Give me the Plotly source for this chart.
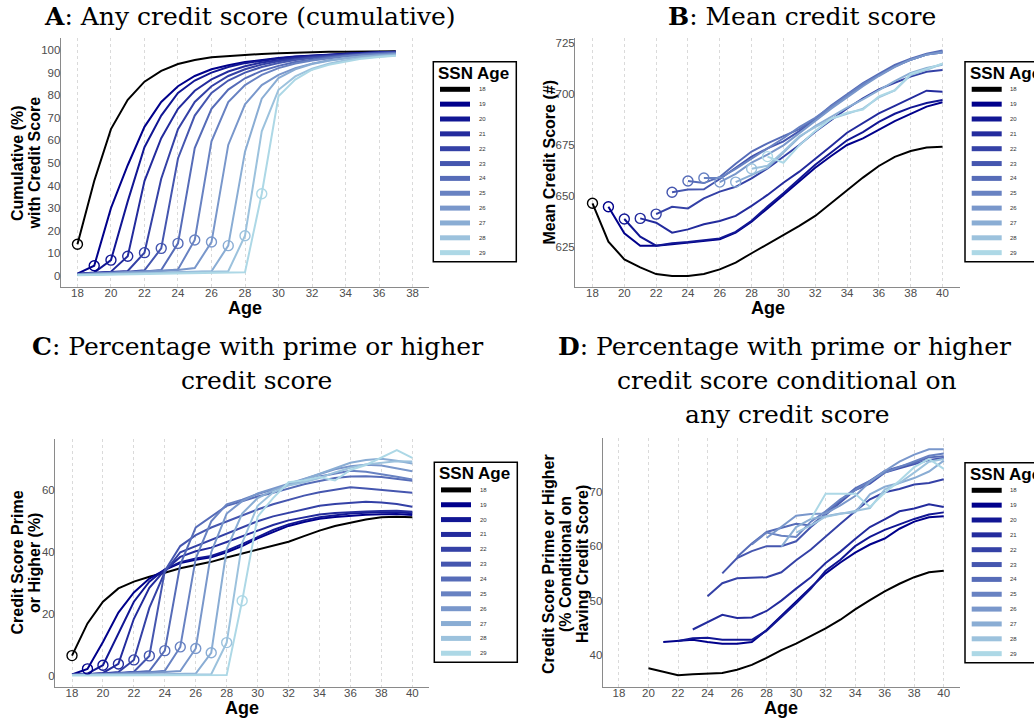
import plotly.graph_objects as go

W, H = 1034, 719

SSN_AGES = list(range(18, 30))
COLORS = ["#000000", "#00008B", "#111694", "#232B9D", "#3441A6", "#4556AF",
          "#566CB8", "#6882C2", "#7997CB", "#8AADD4", "#9CC2DD", "#ADD8E6"]

AGES_A = list(range(18, 38))
AGES = list(range(18, 41))
N = None

# --- A: cumulative share with any credit score (%), ages 18-37
any_18 = [14.0, 42.0, 65.0, 78.0, 86.0, 90.8, 93.8, 95.6, 96.8, 97.4, 97.9, 98.3, 98.6, 98.9, 99.1, 99.2, 99.3, 99.4, 99.5, 99.5]
any_19 = [1.0, 4.5, 30.0, 49.0, 66.0, 77.0, 84.0, 88.5, 91.5, 93.3, 94.7, 95.7, 96.5, 97.1, 97.6, 98.0, 98.4, 98.7, 99.0, 99.2]
any_20 = [0.9, 1.5, 7.0, 33.0, 57.0, 71.0, 81.0, 86.5, 90.0, 92.5, 94.2, 95.4, 96.3, 97.0, 97.5, 98.0, 98.4, 98.7, 99.0, 99.2]
any_21 = [0.9, 1.3, 1.9, 8.7, 42.0, 61.0, 74.0, 82.0, 87.0, 90.5, 92.8, 94.5, 95.7, 96.6, 97.3, 97.8, 98.3, 98.6, 98.9, 99.1]
any_22 = [0.8, 1.2, 1.6, 2.2, 10.3, 43.0, 65.0, 77.0, 84.0, 88.5, 91.5, 93.6, 95.0, 96.1, 96.9, 97.5, 98.0, 98.4, 98.8, 99.0]
any_23 = [0.8, 1.1, 1.4, 1.8, 2.5, 12.2, 52.0, 71.0, 81.0, 86.5, 90.0, 92.5, 94.3, 95.6, 96.5, 97.2, 97.8, 98.3, 98.7, 98.9]
any_24 = [0.7, 1.0, 1.3, 1.6, 2.0, 2.6, 14.4, 56.6, 74.0, 82.5, 87.5, 90.8, 93.0, 94.7, 95.9, 96.8, 97.5, 98.0, 98.4, 98.7]
any_25 = [0.7, 1.0, 1.2, 1.5, 1.8, 2.2, 2.9, 15.9, 59.6, 77.0, 84.5, 89.0, 92.0, 94.0, 95.4, 96.5, 97.3, 97.9, 98.3, 98.6]
any_26 = [0.6, 0.9, 1.1, 1.4, 1.7, 2.1, 2.6, 3.5, 15.0, 58.0, 76.0, 84.5, 89.0, 92.0, 94.0, 95.5, 96.5, 97.3, 97.8, 98.2]
any_27 = [0.5, 0.7, 0.9, 1.1, 1.3, 1.5, 1.7, 1.9, 2.1, 13.4, 55.0, 78.5, 87.6, 91.5, 93.8, 95.3, 96.4, 97.1, 97.6, 98.0]
any_28 = [0.4, 0.6, 0.8, 1.0, 1.2, 1.4, 1.6, 1.8, 2.0, 2.1, 17.8, 64.0, 82.4, 88.3, 91.8, 94.0, 95.5, 96.5, 97.1, 97.6]
any_29 = [0.3, 0.4, 0.5, 0.6, 0.7, 0.8, 0.9, 1.0, 1.1, 1.3, 1.6, 36.4, 79.5, 86.9, 91.3, 93.5, 95.0, 96.2, 96.9, 97.5]

# --- B: mean credit score, ages 18-40
mean_18 = [646.6, 627.8, 619.1, 615.2, 611.9, 610.9, 610.9, 611.9, 614.2, 617.5, 622.1, 626.6, 630.9, 635.5, 640.4, 646.6, 653.1, 659.2, 664.9, 669.4, 672.2, 674.0, 674.3]
mean_19 = [N, 644.9, 631.9, 625.8, 625.8, 626.5, 627.3, 628.1, 628.9, 632.2, 637.6, 644.1, 650.7, 657.2, 664.0, 669.8, 675.2, 678.4, 682.8, 686.9, 690.4, 694.0, 696.1]
mean_20 = [N, N, 638.9, 630.2, 625.8, 627.0, 627.6, 628.4, 629.4, 632.6, 638.0, 645.0, 651.5, 658.5, 665.5, 671.5, 677.5, 681.5, 686.5, 690.5, 693.5, 695.8, 697.2]
mean_21 = [N, N, N, 639.2, 637.1, 632.2, 633.8, 636.3, 637.9, 640.4, 645.3, 650.7, 656.7, 662.1, 668.3, 674.7, 681.2, 685.8, 690.7, 694.4, 698.0, 701.8, 701.3]
mean_22 = [N, N, N, N, 641.3, 644.9, 644.1, 649.0, 652.3, 654.7, 658.8, 663.7, 669.4, 675.2, 681.7, 687.4, 693.1, 698.0, 702.5, 705.7, 708.7, 711.1, 711.9]
mean_23 = [N, N, N, N, N, 652.0, 653.3, 653.5, 658.5, 664.0, 669.5, 673.5, 677.0, 682.0, 687.5, 693.5, 699.0, 704.5, 709.5, 714.0, 717.0, 719.5, 720.5]
mean_24 = [N, N, N, N, N, N, 657.5, 656.5, 659.5, 666.0, 672.0, 676.0, 679.5, 683.0, 688.0, 694.5, 700.0, 705.5, 710.0, 714.5, 717.5, 720.0, 721.5]
mean_25 = [N, N, N, N, N, N, N, 659.0, 659.0, 663.5, 668.5, 673.5, 678.5, 684.0, 688.5, 694.0, 699.5, 705.0, 709.5, 713.5, 717.0, 719.5, 721.0]
mean_26 = [N, N, N, N, N, N, N, N, 657.0, 661.0, 666.5, 670.5, 675.0, 681.0, 687.0, 693.0, 698.5, 704.0, 709.0, 713.5, 717.0, 719.5, 720.5]
mean_27 = [N, N, N, N, N, N, N, N, N, 657.0, 660.5, 664.0, 671.5, 679.0, 684.5, 689.0, 693.5, 697.5, 702.0, 706.5, 710.5, 713.0, 714.5]
mean_28 = [N, N, N, N, N, N, N, N, N, N, 663.5, 665.0, 672.0, 679.5, 684.0, 688.0, 690.5, 693.0, 698.5, 702.0, 709.5, 712.0, 715.0]
mean_29 = [N, N, N, N, N, N, N, N, N, N, N, 669.5, 666.5, 675.0, 682.0, 688.0, 691.0, 692.5, 699.0, 702.0, 710.0, 712.5, 715.0]

# --- C: prime or higher credit score (%), ages 18-40
prime_18 = [6.6, 17.0, 24.0, 28.3, 30.5, 32.1, 33.4, 34.8, 35.9, 36.9, 38.3, 39.6, 41.0, 42.3, 43.4, 45.2, 47.0, 48.5, 49.6, 50.6, 51.3, 51.5, 51.3]
prime_19 = [0.5, 2.3, 11.0, 20.5, 27.0, 31.5, 34.3, 36.5, 37.6, 38.4, 40.0, 42.0, 44.5, 46.5, 48.5, 49.8, 50.8, 51.4, 51.8, 52.1, 52.3, 52.4, 52.0]
prime_20 = [0.5, 0.8, 3.5, 14.0, 24.0, 30.5, 34.5, 36.8, 38.0, 38.8, 40.5, 42.6, 45.0, 47.2, 49.0, 50.3, 51.3, 52.0, 52.5, 52.8, 53.0, 52.9, 52.6]
prime_21 = [0.5, 0.6, 1.0, 3.9, 18.5, 28.5, 34.2, 38.5, 40.3, 41.5, 43.3, 45.2, 47.0, 48.8, 50.3, 51.3, 52.2, 52.7, 53.0, 53.2, 53.3, 53.4, 53.1]
prime_22 = [0.4, 0.5, 0.8, 1.3, 5.2, 22.0, 33.6, 40.0, 42.0, 43.8, 45.8, 48.0, 50.0, 51.6, 52.8, 54.0, 55.0, 55.6, 56.0, 56.3, 56.1, 55.6, 54.7]
prime_23 = [0.4, 0.5, 0.7, 1.0, 1.4, 6.5, 34.0, 42.0, 45.5, 48.0, 50.0, 52.0, 53.8, 55.5, 57.0, 58.3, 59.4, 60.2, 61.0, 60.6, 60.2, 59.7, 59.2]
prime_24 = [0.4, 0.4, 0.6, 0.8, 1.1, 1.6, 8.2, 36.0, 48.0, 51.5, 55.0, 56.5, 58.0, 59.2, 60.5, 62.0, 63.0, 64.0, 64.5, 64.6, 64.3, 63.7, 63.1]
prime_25 = [0.3, 0.4, 0.5, 0.7, 0.9, 1.2, 1.7, 9.4, 38.0, 50.0, 55.5, 57.0, 58.8, 60.3, 61.8, 63.2, 64.5, 65.5, 66.3, 66.0, 65.3, 64.4, 63.5]
prime_26 = [0.3, 0.4, 0.5, 0.6, 0.8, 1.0, 1.3, 1.6, 8.9, 40.0, 52.5, 56.5, 59.0, 60.6, 62.0, 63.6, 65.4, 66.8, 67.8, 68.3, 68.0, 67.2, 66.2]
prime_27 = [0.3, 0.3, 0.4, 0.4, 0.5, 0.5, 0.6, 0.7, 0.8, 7.5, 41.0, 52.5, 57.5, 60.0, 61.8, 63.6, 65.3, 67.3, 68.9, 69.8, 70.2, 69.6, 68.7]
prime_28 = [0.3, 0.3, 0.3, 0.4, 0.4, 0.4, 0.5, 0.5, 0.5, 0.6, 10.8, 43.0, 55.0, 59.3, 61.6, 62.6, 64.0, 65.8, 67.3, 68.4, 69.0, 69.4, 69.3]
prime_29 = [0.2, 0.2, 0.2, 0.2, 0.2, 0.3, 0.3, 0.3, 0.3, 0.3, 0.3, 24.3, 51.5, 57.5, 62.6, 63.2, 64.3, 63.2, 66.6, 68.2, 70.6, 73.0, 70.5]

# --- D: prime or higher, conditional on having a score (%), ages 18-40
cond_18 = [N, N, 37.6, 37.0, 36.3, 36.5, 36.6, 36.7, 37.3, 38.2, 39.5, 40.9, 42.1, 43.5, 44.9, 46.5, 48.4, 50.1, 51.7, 53.1, 54.3, 55.2, 55.5]
cond_19 = [N, N, N, 42.4, 42.6, 42.8, 42.4, 42.1, 42.1, 42.4, 44.6, 47.2, 49.8, 52.5, 55.0, 57.0, 58.8, 60.3, 61.4, 63.2, 64.5, 65.3, 65.5]
cond_20 = [N, N, N, N, 42.6, 43.1, 43.2, 42.8, 42.8, 42.8, 44.5, 47.0, 49.5, 52.2, 55.5, 57.5, 60.0, 61.7, 63.0, 64.0, 65.0, 65.8, 66.2]
cond_21 = [N, N, N, N, N, 44.7, 46.0, 47.4, 46.8, 46.9, 48.1, 50.0, 52.2, 54.3, 56.9, 59.0, 61.3, 63.5, 64.9, 66.4, 66.9, 67.7, 67.2]
cond_22 = [N, N, N, N, N, N, 50.8, 53.2, 54.1, 54.2, 54.3, 55.2, 57.4, 59.4, 61.8, 64.1, 66.4, 68.6, 69.9, 70.5, 71.3, 71.6, 72.3]
cond_23 = [N, N, N, N, N, N, N, 55.0, 57.8, 59.1, 60.0, 60.0, 60.9, 63.5, 65.8, 68.1, 70.3, 71.5, 73.5, 74.3, 75.0, 75.8, 76.2]
cond_24 = [N, N, N, N, N, N, N, N, 58.0, 60.5, 62.6, 63.4, 64.1, 63.8, 66.0, 68.4, 70.6, 72.0, 73.8, 74.6, 75.3, 76.3, 76.5]
cond_25 = [N, N, N, N, N, N, N, N, N, 60.3, 62.5, 61.9, 61.7, 64.5, 66.4, 68.6, 70.3, 72.0, 73.5, 74.5, 75.6, 76.6, 77.0]
cond_26 = [N, N, N, N, N, N, N, N, N, N, 61.5, 63.5, 65.6, 65.9, 66.0, 67.5, 69.2, 71.8, 73.8, 75.5, 76.8, 77.8, 77.8]
cond_27 = [N, N, N, N, N, N, N, N, N, N, N, 59.9, 63.5, 65.0, 65.5, 66.0, 66.2, 69.5, 70.9, 71.6, 72.5, 73.7, 75.7]
cond_28 = [N, N, N, N, N, N, N, N, N, N, N, N, 62.5, 63.8, 65.4, 65.9, 66.5, 67.0, 70.4, 71.6, 73.5, 75.5, 76.0]
cond_29 = [N, N, N, N, N, N, N, N, N, N, N, N, N, 65.0, 69.6, 69.6, 69.6, 67.2, 69.8, 72.0, 74.5, 76.0, 74.2]

ANY = [any_18, any_19, any_20, any_21, any_22, any_23, any_24, any_25, any_26, any_27, any_28, any_29]
MEAN = [mean_18, mean_19, mean_20, mean_21, mean_22, mean_23, mean_24, mean_25, mean_26, mean_27, mean_28, mean_29]
PRIME = [prime_18, prime_19, prime_20, prime_21, prime_22, prime_23, prime_24, prime_25, prime_26, prime_27, prime_28, prime_29]
COND = [cond_18, cond_19, cond_20, cond_21, cond_22, cond_23, cond_24, cond_25, cond_26, cond_27, cond_28, cond_29]

SANS = "Liberation Sans, Arial, sans-serif"
SERIF = "DejaVu Serif, serif"
TITLE_SIZE = 25


def fx(x):
    return x / W


def fy(y):
    return 1 - y / H


fig = go.Figure()

panels = [
    # axis suffix, ages, series, draw circle at SSN age
    ("", AGES_A, ANY, True),
    ("2", AGES, MEAN, True),
    ("3", AGES, PRIME, True),
    ("4", AGES, COND, False),
]

for suffix, ages, series, circles in panels:
    xa, ya = "x" + suffix, "y" + suffix
    for ssn, color, vals in zip(SSN_AGES, COLORS, series):
        fig.add_trace(go.Scatter(
            x=ages, y=vals, mode="lines", xaxis=xa, yaxis=ya,
            line=dict(color=color, width=2), hoverinfo="skip"))
    if circles:
        for ssn, color, vals in zip(SSN_AGES, COLORS, series):
            i = ages.index(ssn)
            fig.add_trace(go.Scatter(
                x=[ssn], y=[vals[i]], mode="markers", xaxis=xa, yaxis=ya,
                marker=dict(symbol="circle-open", size=10, color=color,
                            line=dict(width=1.4, color=color)),
                hoverinfo="skip"))

axis_common = dict(
    showline=True, linecolor="#8a8a8a", linewidth=1, mirror=False,
    ticks="", zeroline=False,
    tickfont=dict(family=SANS, size=11.5, color="#4d4d4d"),
)
xgrid = dict(showgrid=True, gridcolor="#dadada", griddash="3px,3px", gridwidth=0.8)

# pixel boxes of the four plotting areas: left, right, top, bottom
boxes = {
    "": (60.7, 429.3, 38.3, 287.0),
    "2": (575.0, 960.0, 38.3, 286.7),
    "3": (55.0, 429.3, 439.0, 687.3),
    "4": (602.7, 960.0, 438.3, 686.7),
}
xranges = {"": [17, 39], "2": [16.9, 41.1], "3": [16.9, 41.1], "4": [16.9, 41.1]}
yranges = {"": [-4.9, 105.2], "2": [605.7, 727.5], "3": [-3.65, 76.6], "4": [34.2, 79.8]}
xticks = {"": list(range(18, 39, 2)), "2": list(range(18, 41, 2)),
          "3": list(range(18, 41, 2)), "4": list(range(18, 41, 2))}
yticks = {"": list(range(0, 101, 10)), "2": [625, 650, 675, 700, 725],
          "3": [0, 20, 40, 60], "4": [40, 50, 60, 70]}

layout_axes = {}
for s, (l, r, t, b) in boxes.items():
    layout_axes["xaxis" + s] = dict(
        domain=[fx(l), fx(r)], range=xranges[s], anchor="y" + s,
        tickvals=xticks[s], ticklabelstandoff=-5, **axis_common, **xgrid)
    layout_axes["yaxis" + s] = dict(
        domain=[fy(b), fy(t)], range=yranges[s], anchor="x" + s,
        tickvals=yticks[s], ticklabelstandoff=-3, showgrid=False, **axis_common)

annotations = []
shapes = []


def text(x, y, s, size, family=SANS, angle=0, color="#000000", xanchor="center"):
    annotations.append(dict(
        x=fx(x), y=fy(y), xref="paper", yref="paper", text=s, showarrow=False,
        font=dict(family=family, size=size, color=color), textangle=angle,
        xanchor=xanchor, yanchor="middle"))


# panel titles
text(250, 17, "<b>A</b>: Any credit score (cumulative)", TITLE_SIZE, SERIF)
text(802, 17, "<b>B</b>: Mean credit score", TITLE_SIZE, SERIF)
text(257, 346, "<b>C</b>: Percentage with prime or higher", TITLE_SIZE, SERIF)
text(256, 380, "credit score", TITLE_SIZE, SERIF)
text(784, 346, "<b>D</b>: Percentage with prime or higher", TITLE_SIZE, SERIF)
text(787, 380, "credit score conditional on", TITLE_SIZE, SERIF)
text(787, 415, "any credit score", TITLE_SIZE, SERIF)

# axis titles
for s, (l, r, t, b) in boxes.items():
    text((l + r) / 2, b + 21, "<b>Age</b>", 18)
text(17, 163, "<b>Cumulative (%)</b>", 16, angle=-90)
text(33.5, 163, "<b>with Credit Score</b>", 16, angle=-90)
text(548.5, 163, "<b>Mean Credit Score (#)</b>", 16, angle=-90)
text(16.5, 563, "<b>Credit Score Prime</b>", 16, angle=-90)
text(34, 563, "<b>or Higher (%)</b>", 16, angle=-90)
text(548, 564, "<b>Credit Score Prime or Higher</b>", 16, angle=-90)
text(565, 564, "<b>(% Conditional on</b>", 16, angle=-90)
text(582, 564, "<b>Having Credit Score)</b>", 16, angle=-90)


def legend(x0, y0, width=83, height=200):
    shapes.append(dict(type="rect", xref="paper", yref="paper",
                       x0=fx(x0), x1=fx(x0 + width), y0=fy(y0 + height), y1=fy(y0),
                       line=dict(color="#000000", width=1.5), fillcolor="white", layer="above"))
    text(x0 + 40, y0 + 11.6, "<b>SSN Age</b>", 17)
    for i, (ssn, color) in enumerate(zip(SSN_AGES, COLORS)):
        yy = y0 + 27.6 + i * 14.85
        shapes.append(dict(type="line", xref="paper", yref="paper",
                           x0=fx(x0 + 6.7), x1=fx(x0 + 36.7), y0=fy(yy), y1=fy(yy),
                           line=dict(color=color, width=5), layer="above"))
        text(x0 + 43.4, yy, str(ssn), 6, color="#333333", xanchor="left")


legend(433.3, 61.7)
legend(965.0, 61.7, width=90)
legend(434.3, 462.3)
legend(965.0, 462.7, width=90)

fig.update_layout(
    width=W, height=H, margin=dict(l=0, r=0, t=0, b=0),
    paper_bgcolor="white", plot_bgcolor="white", showlegend=False,
    annotations=annotations, shapes=shapes, **layout_axes)

fig.write_html("out.html")
